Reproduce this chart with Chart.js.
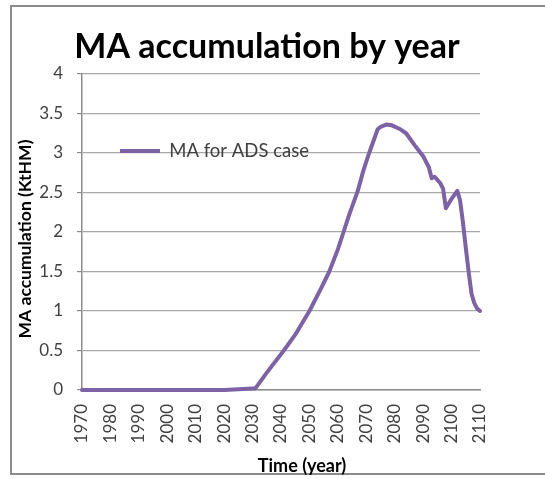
<!DOCTYPE html>
<html>
<head>
<meta charset="utf-8">
<script src="https://cdn.jsdelivr.net/npm/chart.js@4/dist/chart.umd.min.js"></script>
<style>
  html, body { margin: 0; padding: 0; background: #ffffff; overflow: hidden; }
  #frame { position: absolute; left: 10px; top: 5px; width: 560px; height: 470px; border: 2px solid #8c8c8c; box-sizing: border-box; }
  #c { position: absolute; left: 0; top: 0; }
</style>
</head>
<body>
<div id="frame"></div>
<canvas id="c" width="545" height="479"></canvas>
<script>
// ---- data ----
const CHART_TITLE = 'MA accumulation by year';
const X_TITLE = 'Time (year)';
const Y_TITLE = 'MA accumulation (KtHM)';
const SERIES_LABEL = 'MA for ADS case';
const YEARS = [1970, 1980, 1990, 2000, 2010, 2020, 2025, 2030, 2031, 2035, 2041, 2045, 2050, 2054, 2057,
  2060, 2062, 2064, 2067, 2069, 2071, 2073, 2074, 2075, 2077, 2079, 2082, 2084, 2087, 2090, 2092,
  2093, 2094, 2095, 2096, 2097, 2098, 2099, 2100, 2101, 2102, 2103, 2104, 2105, 2106, 2107, 2108, 2109, 2110];
const MA_VALUES = [0, 0, 0, 0, 0, 0, 0.01, 0.02, 0.02, 0.22, 0.5, 0.7, 1.0, 1.28, 1.5,
  1.78, 2.0, 2.22, 2.52, 2.78, 3.0, 3.2, 3.3, 3.33, 3.36, 3.35, 3.3, 3.25, 3.1, 2.96, 2.82,
  2.68, 2.7, 2.66, 2.62, 2.55, 2.3, 2.36, 2.42, 2.47, 2.52, 2.4, 2.12, 1.8, 1.5, 1.22, 1.1, 1.03, 1.0];
const X_TICKS = [1970, 1980, 1990, 2000, 2010, 2020, 2030, 2040, 2050, 2060, 2070, 2080, 2090, 2100, 2110];
const Y_TICKS = [0, 0.5, 1, 1.5, 2, 2.5, 3, 3.5, 4];

const FONT = 'Lato';
const TEXT_GRAY = '#404040';

const placePlugin = {
  id: 'place',
  afterLayout(chart) {
    const t = chart.titleBlock;
    if (t) {
      const cx = 267, w = t.right - t.left;
      t.left = cx - w / 2; t.right = cx + w / 2;
    }
    const lg = chart.legend;
    if (lg) {
      const w = lg.width, h = lg.height;
      lg.left = 120; lg.top = 141.75;
      lg.right = lg.left + w; lg.bottom = lg.top + h;
    }
  },
  afterDraw(chart) {
    const ctx = chart.ctx;
    ctx.save();
    ctx.fillStyle = '#000000';
    ctx.textAlign = 'center';
    ctx.textBaseline = 'alphabetic';
    ctx.font = 'bold 18px ' + FONT;
    ctx.fillText(X_TITLE, 302, 472);
    ctx.font = 'bold 17.5px ' + FONT;
    ctx.translate(31, 239);
    ctx.rotate(-Math.PI / 2);
    ctx.fillText(Y_TITLE, 0, 0);
    ctx.restore();
  }
};

new Chart(document.getElementById('c'), {
  type: 'line',
  data: {
    datasets: [{
      label: SERIES_LABEL,
      data: YEARS.map((y, i) => ({ x: y, y: MA_VALUES[i] })),
      borderColor: '#7E62A6',
      backgroundColor: '#7E62A6',
      borderWidth: 4,
      pointRadius: 0,
      tension: 0,
      borderJoinStyle: 'round',
      borderCapStyle: 'round',
      clip: false,
      pointStyle: 'line'
    }]
  },
  options: {
    responsive: false,
    animation: false,
    layout: { padding: { left: 0, right: 65, top: 0, bottom: 0 } },
    plugins: {
      title: {
        display: true,
        text: CHART_TITLE,
        color: '#000000',
        font: { family: FONT, size: 34, weight: 'bold', lineHeight: 1.2 },
        padding: { top: 27, bottom: 6.2 }
      },
      legend: {
        display: true,
        position: 'chartArea',
        align: 'start',
        labels: {
          usePointStyle: true,
          pointStyleWidth: 40,
          padding: 0,
          color: TEXT_GRAY,
          font: { family: FONT, size: 18.5 }
        }
      },
      tooltip: { enabled: false }
    },
    scales: {
      x: {
        type: 'linear',
        min: 1970,
        max: 2110,
        afterBuildTicks(scale) { scale.ticks = X_TICKS.map(v => ({ value: v })); },
        afterFit(scale) { scale.height = 89; },
        grid: { display: false, drawTicks: false },
        border: { display: true, color: '#8c8c8c', width: 1.5 },
        ticks: {
          minRotation: 90, maxRotation: 90, autoSkip: false,
          padding: 14,
          color: TEXT_GRAY,
          font: { family: FONT, size: 17 },
          callback: v => String(v)
        }
      },
      y: {
        min: 0,
        max: 4,
        afterBuildTicks(scale) { scale.ticks = Y_TICKS.map(v => ({ value: v })); },
        afterFit(scale) { scale.width = 82; },
        grid: { color: '#a8a8a8', lineWidth: 1.2, tickLength: 5, tickColor: '#8c8c8c' },
        border: { display: true, color: '#8c8c8c', width: 1.5 },
        ticks: {
          padding: 14,
          color: TEXT_GRAY,
          font: { family: FONT, size: 17 },
          callback: v => String(v)
        }
      }
    }
  },
  plugins: [placePlugin]
});
</script>
</body>
</html>
